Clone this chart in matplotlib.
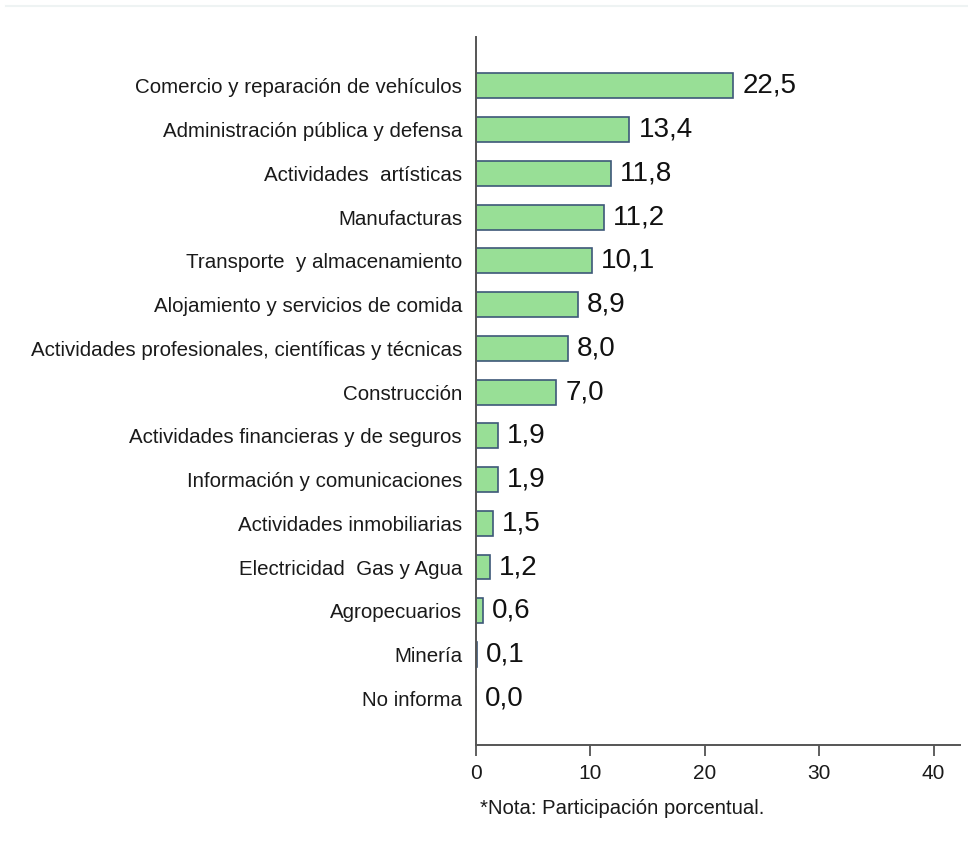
import matplotlib.pyplot as plt
from matplotlib.lines import Line2D

plt.rcParams['font.family'] = ['Liberation Sans', 'DejaVu Sans']

sectores = [
    "Comercio y reparación de vehículos",
    "Administración pública y defensa",
    "Actividades  artísticas",
    "Manufacturas",
    "Transporte  y almacenamiento",
    "Alojamiento y servicios de comida",
    "Actividades profesionales, científicas y técnicas",
    "Construcción",
    "Actividades financieras y de seguros",
    "Información y comunicaciones",
    "Actividades inmobiliarias",
    "Electricidad  Gas y Agua",
    "Agropecuarios",
    "Minería",
    "No informa",
]
participacion = [22.5, 13.4, 11.8, 11.2, 10.1, 8.9, 8.0, 7.0, 1.9, 1.9, 1.5, 1.2, 0.6, 0.1, 0.0]
x_ticks = [0, 10, 20, 30, 40]

fig = plt.figure(figsize=(9.68, 8.52), dpi=100)
ax = fig.add_axes([0.4917, 0.1256, 0.5, 0.831])

pos = list(range(len(sectores)))
ax.barh(pos, participacion, height=0.57, color="#98df96", edgecolor="#3d5878", linewidth=1.2)

for y, v in zip(pos, participacion):
    ax.text(v + 0.8, y, f"{v:.1f}".replace(".", ","), va="center", ha="left",
            fontsize=20, color="#111111")

ax.set_yticks(pos)
ax.set_yticklabels(sectores, fontsize=14.8, color="#1a1a1a")
ax.set_ylim(15.07, -1.12)
ax.set_xlim(0, 42.3)
ax.set_xticks(x_ticks)
ax.set_xticklabels([str(t) for t in x_ticks], fontsize=15, color="#1a1a1a")

ax.tick_params(axis="y", length=0, pad=10)
ax.tick_params(axis="x", length=8, width=1.2, color="#444444", pad=6)
for s in ["top", "right"]:
    ax.spines[s].set_visible(False)
for s in ["left", "bottom"]:
    ax.spines[s].set_color("#555555")
    ax.spines[s].set_linewidth(1.4)

fig.text(0.496, 0.051, "*Nota: Participación porcentual.", fontsize=14.6, color="#1a1a1a",
         ha="left", va="center")

# thin separator line at the very top
fig.add_artist(Line2D([0.006, 1.0], [0.993, 0.993], color="#eef3f3", linewidth=1.5))

fig.savefig("out.png", dpi=100)
